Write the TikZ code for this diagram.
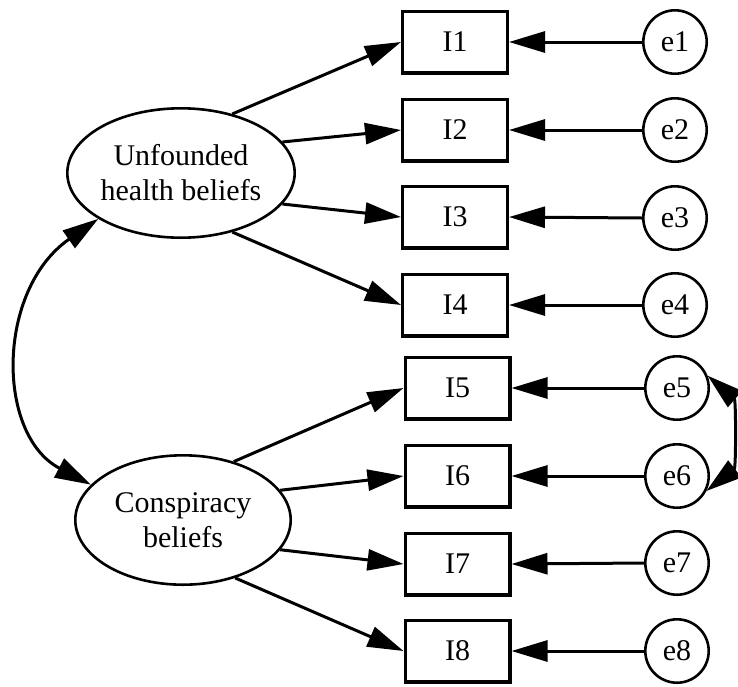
\documentclass[tikz,border=0pt]{standalone}
\usepackage{fontspec}
\setmainfont{Liberation Serif}
\usetikzlibrary{arrows.meta,shapes.geometric}
\begin{document}
\begin{tikzpicture}[x=1pt,y=-1pt,
  every node/.style={font=\fontsize{30}{35}\selectfont, inner sep=0pt},
  latent/.style={draw, ellipse, line width=2.6pt, minimum width=215.4pt, minimum height=129.4pt, align=center},
  obs/.style={draw, rectangle, line width=3.2pt, minimum width=104.8pt, minimum height=61.8pt},
  err/.style={draw, circle, line width=2.6pt, minimum size=63.4pt},
  tip/.tip={Triangle[length=36pt,width=21pt]},
  arr/.style={line width=3pt, -tip},
  dbl/.style={line width=3pt, tip-tip}
]
\useasboundingbox (0,0) rectangle (738,686);
\clip (0,0) rectangle (738,686);

\node[latent] (U) at (181,173) {Unfounded\\health beliefs};
\node[latent] (C) at (183,520) {Conspiracy\\beliefs};

\node[obs] (I1) at (455,42) {I1};
\node[obs] (I2) at (455,130) {I2};
\node[obs] (I3) at (455,217) {I3};
\node[obs] (I4) at (455,305) {I4};
\node[obs] (I5) at (457.5,388) {I5};
\node[obs] (I6) at (457.5,476) {I6};
\node[obs] (I7) at (457.5,564) {I7};
\node[obs] (I8) at (457.5,651) {I8};

\node[err] (e1) at (675,42) {e1};
\node[err] (e2) at (675,130) {e2};
\node[err] (e3) at (675,218) {e3};
\node[err] (e4) at (675,305) {e4};
\node[err] (e5) at (677,388) {e5};
\node[err] (e6) at (677,476) {e6};
\node[err] (e7) at (677,563) {e7};
\node[err] (e8) at (677,651) {e8};

\draw[arr] (U.49) -- (I1.west);
\draw[arr] (U.17) -- (I2.west);
\draw[arr] (U.-17) -- (I3.west);
\draw[arr] (U.-49) -- (I4.west);
\draw[arr] (C.49) -- (I5.west);
\draw[arr] (C.17) -- (I6.west);
\draw[arr] (C.-17) -- (I7.west);
\draw[arr] (C.-48) -- (I8.west);

\foreach \i in {1,...,8} {
  \draw[arr] (e\i.west) -- (I\i.east);
}

\draw[dbl] (U.209) .. controls (-4,290) and (-4,435) .. (C.159);
\draw[dbl] (e5.22) .. controls (736,400) and (736,468) .. (e6.-27);
\end{tikzpicture}
\end{document}
